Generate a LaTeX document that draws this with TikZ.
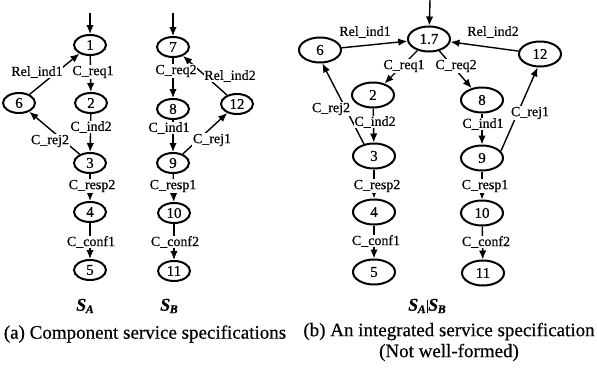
\documentclass[tikz,border=0pt]{standalone}
\usepackage{fontspec}
\setmainfont{Liberation Serif}[FakeBold=0.4]
\usetikzlibrary{arrows.meta,shapes.geometric}
% italic S with a small lowered subscript letter
\newcommand{\specname}[1]{{\fontsize{18}{18}\selectfont\itshape\bfseries S\kern-0.5pt\raisebox{-2.5pt}{\fontsize{12}{12}\selectfont #1}}}
\begin{document}
\begin{tikzpicture}[x=1pt,y=-1pt,
  st/.style={ellipse,draw,line width=2pt,minimum width=32pt,minimum height=20pt,inner sep=0pt,font=\fontsize{15}{15}\selectfont},
  stb/.style={st,minimum width=42pt,minimum height=25pt},
  lab/.style={fill=white,inner sep=0.6pt,font=\fontsize{14}{14}\selectfont},
  tr/.style={line width=1.4pt,-{Latex[length=9pt,width=7.5pt]}},
  captext/.style={font=\fontsize{19}{21}\selectfont,align=center,inner sep=0pt}]
\useasboundingbox[fill=white] (0,0) rectangle (597,367);

% ---------- (a) component service S_A ----------
\node[st] (a1) at (90,45) {1};
\node[st] (a2) at (91,103) {2};
\node[st] (a6) at (19,103) {6};
\node[st] (a3) at (90,163) {3};
\node[st] (a4) at (90,212) {4};
\node[st] (a5) at (90,270) {5};
\coordinate (a0) at (90,13);

% ---------- (a) component service S_B ----------
\node[st] (b7) at (173,47) {7};
\node[st] (b8) at (173,109) {8};
\node[st] (b9) at (173,163) {9};
\node[st] (b12) at (237,104) {12};
\node[st] (b10) at (174,213) {10};
\node[st] (b11) at (174,271) {11};
\coordinate (b0) at (173,13);

\draw[tr] (a0) -- (a1);
\draw[tr] (a1) -- (a2);
\draw[tr] (a2) -- (a3);
\draw[tr] (a3) -- (a4);
\draw[tr] (a4) -- (a5);
\draw[tr] (a3) -- (a6);
\draw[tr] (a6) -- (a1);

\draw[tr] (b0) -- (b7);
\draw[tr] (b7) -- (b8);
\draw[tr] (b8) -- (b9);
\draw[tr] (b9) -- (b10);
\draw[tr] (b10) -- (b11);
\draw[tr] (b9) -- (b12);
\draw[tr] (b12) -- (b7);

\node[lab] (la1) at (37,72) {Rel\_ind1};
\node[lab] (la2) at (93,72) {C\_req1};
\node[lab] (la3) at (91,127) {C\_ind2};
\node[lab] (la4) at (50,141) {C\_rej2};
\node[lab] (la5) at (92,186) {C\_resp2};
\node[lab] (la6) at (91,242) {C\_conf1};

\node[lab] (lb1) at (176,71) {C\_req2};
\node[lab] (lb2) at (230,76) {Rel\_ind2};
\node[lab] (lb3) at (169,128) {C\_ind1};
\node[lab] (lb4) at (212,140) {C\_rej1};
\node[lab] (lb5) at (173,186) {C\_resp1};
\node[lab] (lb6) at (175,242) {C\_conf2};

\node (sa) at (85,306) {\specname{A}};
\node (sb) at (169,306) {\specname{B}};
\node[captext] (capa) at (145,334) {(a) Component service specifications};

% ---------- (b) integrated specification ----------
\node[stb] (m17) at (429,39) {1.7};
\node[stb] (m6) at (320,50) {6};
\node[stb] (m12) at (540,54) {12};
\node[stb] (m2) at (373,95) {2};
\node[stb] (m8) at (482,100) {8};
\node[stb] (m3) at (374,156) {3};
\node[stb] (m9) at (482,158) {9};
\node[stb] (m4) at (374,212) {4};
\node[stb] (m10) at (482,213) {10};
\node[stb] (m5) at (374,272) {5};
\node[stb] (m11) at (483,273) {11};
\coordinate (m0) at (430,0);

\draw[tr] (m0) -- (m17);
\draw[tr] (m6) -- (m17);
\draw[tr] (m12) -- (m17);
\draw[tr] (m17) -- (m2);
\draw[tr] (m17) -- (m8);
\draw[tr] (m2) -- (m3);
\draw[tr] (m3) -- (m4);
\draw[tr] (m4) -- (m5);
\draw[tr] (m8) -- (m9);
\draw[tr] (m9) -- (m10);
\draw[tr] (m10) -- (m11);
\draw[tr] (m3.130) -- (m6.-80);
\draw[tr] (m9.20) -- (m12.-100);

\node[lab] (lm1) at (365,32) {Rel\_ind1};
\node[lab] (lm2) at (493,32) {Rel\_ind2};
\node[lab] (lm3) at (404,66) {C\_req1};
\node[lab] (lm4) at (456,66) {C\_req2};
\node[lab] (lm5) at (331,109) {C\_rej2};
\node[lab] (lm6) at (375,122) {C\_ind2};
\node[lab] (lm7) at (483,124) {C\_ind1};
\node[lab] (lm8) at (530,113) {C\_rej1};
\node[lab] (lm9) at (377,186) {C\_resp2};
\node[lab] (lm10) at (485,186) {C\_resp1};
\node[lab] (lm11) at (376,241) {C\_conf1};
\node[lab] (lm12) at (486,242) {C\_conf2};

\node (sab) at (427,306) {\specname{A}\kern1pt\rule[-2.5pt]{1pt}{13pt}\kern0.5pt\specname{B}};
\node[captext] (capb) at (449,342) {(b) An integrated service specification\\(Not well-formed)};
\end{tikzpicture}
\end{document}
